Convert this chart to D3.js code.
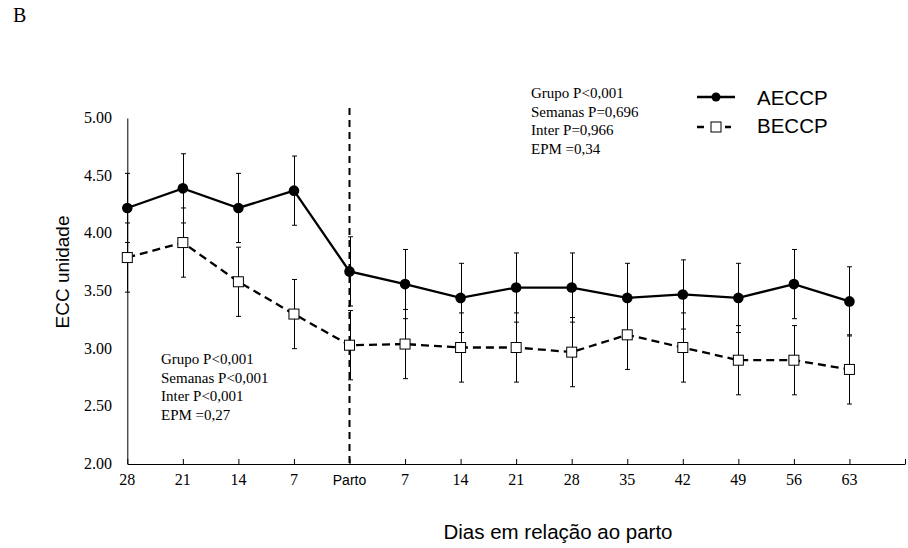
<!DOCTYPE html>
<html>
<head>
<meta charset="utf-8">
<script src="https://cdn.jsdelivr.net/npm/d3@7"></script>
<style>
  body { margin: 0; background: #fff; }
  svg { display: block; }
  .serif { font-family: "Liberation Serif", "Times New Roman", serif; }
  .sans { font-family: "Liberation Sans", Arial, sans-serif; }
</style>
</head>
<body>
<div id="chart"></div>
<script>
// days relative to calving (parto)
const categories = ["28", "21", "14", "7", "Parto", "7", "14", "21", "28", "35", "42", "49", "56", "63"];
const aeccp = [4.22, 4.39, 4.22, 4.37, 3.67, 3.56, 3.44, 3.53, 3.53, 3.44, 3.47, 3.44, 3.56, 3.41];
const beccp = [3.79, 3.92, 3.58, 3.30, 3.03, 3.04, 3.01, 3.01, 2.97, 3.12, 3.01, 2.90, 2.90, 2.82];
const aeccpErr = [0.30, 0.30, 0.30, 0.30, 0.30, 0.30, 0.30, 0.30, 0.30, 0.30, 0.30, 0.30, 0.30, 0.30];
const beccpErr = [0.30, 0.30, 0.30, 0.30, 0.30, 0.30, 0.30, 0.30, 0.30, 0.30, 0.30, 0.30, 0.30, 0.30];
const yTicks = [2.0, 2.5, 3.0, 3.5, 4.0, 4.5, 5.0];
const statsPre = ["Grupo P<0,001", "Semanas P<0,001", "Inter P<0,001", "EPM =0,27"];
const statsPost = ["Grupo P<0,001", "Semanas P=0,696", "Inter P=0,966", "EPM =0,34"];

const width = 908, height = 548;
const svg = d3.select("#chart").append("svg")
    .attr("width", width)
    .attr("height", height);

// one extra empty slot after 63 so the axis runs past the last point
let x = d3.scaleLinear().domain([0, categories.length]).range([127.3, 905]);
let y = d3.scaleLinear().domain([2, 5]).range([464, 118]);

// x axis, ticks point up into the plot
let xAxis = d3.axisBottom(x)
    .tickValues(d3.range(categories.length + 1))
    .tickSizeInner(-5)
    .tickSizeOuter(0)
    .tickFormat(() => "");
let gx = svg.append("g")
    .attr("transform", `translate(0,${y(2)})`)
    .call(xAxis);
gx.select(".domain").attr("stroke", "#000").attr("stroke-width", 1);
gx.selectAll(".tick line").attr("stroke", "#000");

svg.append("g").selectAll("text")
    .data(categories)
    .join("text")
      .attr("class", (d) => d == "Parto" ? "sans" : "serif")
      .attr("x", (d, i) => x(i))
      .attr("y", 485)
      .attr("text-anchor", "middle")
      .attr("font-size", (d) => d == "Parto" ? 14 : 16)
      .text((d) => d);

// y axis, no ticks
let yAxis = d3.axisLeft(y).tickValues(yTicks).tickSize(0).tickFormat(() => "");
let gy = svg.append("g").attr("transform", `translate(${x(0)},0)`).call(yAxis);
gy.select(".domain").attr("stroke", "#000").attr("stroke-width", 1);

svg.append("g").selectAll("text")
    .data(yTicks)
    .join("text")
      .attr("class", "serif")
      .attr("x", 112)
      .attr("y", (d) => y(d) + 5)
      .attr("text-anchor", "end")
      .attr("font-size", 16)
      .text((d) => d3.format(".2f")(d));

// calving line
let parto = categories.indexOf("Parto");
svg.append("line")
    .attr("x1", x(parto)).attr("x2", x(parto))
    .attr("y1", 108).attr("y2", y(2))
    .attr("stroke", "#000")
    .attr("stroke-width", 2)
    .attr("stroke-dasharray", "7,5");

// series lines
let line = d3.line().x((d, i) => x(i)).y((d) => y(d));
svg.append("path")
    .attr("d", line(beccp))
    .attr("fill", "none")
    .attr("stroke", "#000")
    .attr("stroke-width", 2.3)
    .attr("stroke-dasharray", "8,5");
svg.append("path")
    .attr("d", line(aeccp))
    .attr("fill", "none")
    .attr("stroke", "#000")
    .attr("stroke-width", 2.3);

// error bars
function errorBars(values, errs) {
    let g = svg.append("g").attr("stroke", "#000").attr("stroke-width", 1);
    values.forEach((v, i) => {
        let cx = Math.round(x(i)) + 0.5;
        let top = y(v + errs[i]), bot = y(v - errs[i]);
        g.append("line").attr("x1", cx).attr("x2", cx).attr("y1", top).attr("y2", bot);
        g.append("line").attr("x1", cx - 2.5).attr("x2", cx + 2.5).attr("y1", top).attr("y2", top);
        g.append("line").attr("x1", cx - 2.5).attr("x2", cx + 2.5).attr("y1", bot).attr("y2", bot);
    });
}
errorBars(beccp, beccpErr);
errorBars(aeccp, aeccpErr);

// markers
svg.append("g").selectAll("rect")
    .data(beccp)
    .join("rect")
      .attr("x", (d, i) => x(i) - 5)
      .attr("y", (d) => y(d) - 5)
      .attr("width", 10)
      .attr("height", 10)
      .attr("fill", "#fff")
      .attr("stroke", "#000")
      .attr("stroke-width", 1);
svg.append("g").selectAll("circle")
    .data(aeccp)
    .join("circle")
      .attr("cx", (d, i) => x(i))
      .attr("cy", (d) => y(d))
      .attr("r", 5.3)
      .attr("fill", "#000");

// stats text blocks
function statsBlock(lines, x0, y0) {
    svg.append("g").selectAll("text")
        .data(lines)
        .join("text")
          .attr("class", "serif")
          .attr("x", x0)
          .attr("y", (d, i) => y0 + i * 18.7)
          .attr("font-size", 15)
          .text((d) => d);
}
statsBlock(statsPre, 161, 364);
statsBlock(statsPost, 531, 98);

// legend
let leg = svg.append("g");
leg.append("line").attr("x1", 697).attr("x2", 735).attr("y1", 97).attr("y2", 97)
    .attr("stroke", "#000").attr("stroke-width", 2.3);
leg.append("circle").attr("cx", 716).attr("cy", 97).attr("r", 4.5).attr("fill", "#000");
leg.append("line").attr("x1", 697).attr("x2", 731).attr("y1", 127).attr("y2", 127)
    .attr("stroke", "#000").attr("stroke-width", 2.3).attr("stroke-dasharray", "7,7");
leg.append("rect").attr("x", 711).attr("y", 122).attr("width", 10).attr("height", 10)
    .attr("fill", "#fff").attr("stroke", "#000").attr("stroke-width", 1);
leg.append("text").attr("class", "sans").attr("x", 757).attr("y", 105)
    .attr("font-size", 20.5).text("AECCP");
leg.append("text").attr("class", "sans").attr("x", 757).attr("y", 133)
    .attr("font-size", 20.5).text("BECCP");

// titles
svg.append("text").attr("class", "serif")
    .attr("x", 13).attr("y", 22).attr("font-size", 20).text("B");
svg.append("text").attr("class", "sans")
    .attr("transform", "translate(69,272) rotate(-90)")
    .attr("text-anchor", "middle")
    .attr("font-size", 19)
    .text("ECC unidade");
svg.append("text").attr("class", "sans")
    .attr("x", 558).attr("y", 539)
    .attr("text-anchor", "middle")
    .attr("font-size", 20.5)
    .text("Dias em relação ao parto");
</script>
</body>
</html>
